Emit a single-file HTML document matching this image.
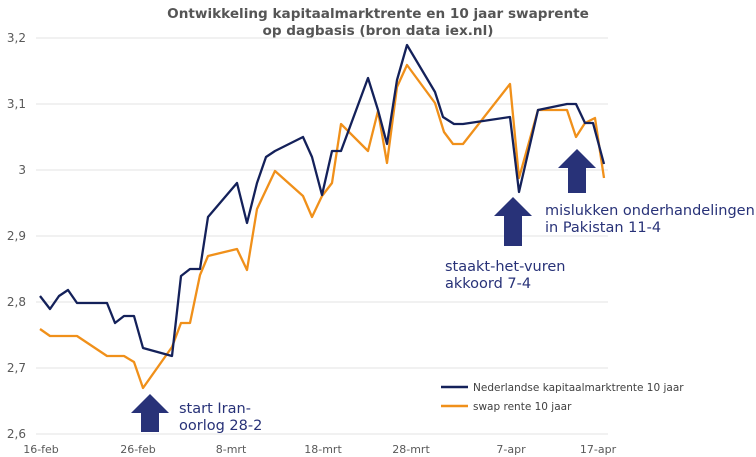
<!DOCTYPE html>
<html><head><meta charset="utf-8"><style>
body{margin:0;background:#fff}
svg{display:block;font-family:"Liberation Sans","DejaVu Sans",sans-serif}
</style></head><body>
<svg width="756" height="457" viewBox="0 0 756 457">
<g font-family="DejaVu Sans,Liberation Sans,sans-serif" font-weight="bold" font-size="13.6" fill="#555555" text-anchor="middle">
<text x="378" y="18">Ontwikkeling kapitaalmarktrente en 10 jaar swaprente</text>
<text x="378" y="35">op dagbasis (bron data iex.nl)</text>
</g>
<g stroke="#e3e3e3" stroke-width="1">
<line x1="36" y1="38" x2="608" y2="38"/><line x1="36" y1="104" x2="608" y2="104"/>
<line x1="36" y1="170" x2="608" y2="170"/><line x1="36" y1="236" x2="608" y2="236"/>
<line x1="36" y1="302" x2="608" y2="302"/><line x1="36" y1="368" x2="608" y2="368"/>
<line x1="36" y1="434" x2="608" y2="434"/>
</g>
<g font-family="DejaVu Sans,Liberation Sans,sans-serif" font-size="12" fill="#595959" text-anchor="end">
<text x="26" y="42">3,2</text><text x="26" y="108">3,1</text><text x="26" y="174">3</text>
<text x="26" y="240">2,9</text><text x="26" y="306">2,8</text><text x="26" y="372">2,7</text><text x="26" y="438">2,6</text>
</g>
<g font-family="DejaVu Sans,Liberation Sans,sans-serif" font-size="11" fill="#595959" text-anchor="middle">
<text x="41" y="453">16-feb</text><text x="138" y="453">26-feb</text><text x="231" y="453">8-mrt</text>
<text x="323" y="453">18-mrt</text><text x="411" y="453">28-mrt</text><text x="511" y="453">7-apr</text><text x="598" y="453">17-apr</text>
</g>
<polyline fill="none" stroke="#f0901a" stroke-width="2.3" stroke-linejoin="round" points="40,329 50,336 77,336 107,356 124,356 134,362 143,388 172,347 181,323 190,323 200,275 208,256 237,249 247,270 257,209 275,171 303,196 312,217 322,196 332,183 341,124 368,151 378,111 387,163 397,87 407,65 435,103 444,132 453,144 463,144 510,84 519,178 538,110 567,110 576,137 585,123 595,118 604,178"/>
<polyline fill="none" stroke="#14215a" stroke-width="2.3" stroke-linejoin="round" points="40,296 50,309 59,296 68,290 77,303 107,303 115,323 124,316 134,316 143,348 172,356 181,276 190,269 200,269 208,217 237,183 247,223 257,183 266,157 275,151 303,137 312,157 322,195 332,151 341,151 368,78 378,110 387,144 397,80 407,45 435,92 443,117 454,124 463,124 510,117 519,192 538,110 567,104 576,104 585,123 593,123 604,164"/>
<g fill="#283278">
<polygon points="150,394 169,413 159,413 159,432 141,432 141,413 131,413"/>
<polygon points="513,197 532,216 522,216 522,246 504,246 504,216 494,216"/>
<polygon points="577,149 596,168 586,168 586,193 568,193 568,168 558,168"/>
</g>
<g font-family="DejaVu Sans,Liberation Sans,sans-serif" font-size="14.5" fill="#283278">
<text x="179" y="413">start Iran-</text><text x="179" y="430">oorlog 28-2</text>
<text x="445" y="271">staakt-het-vuren</text><text x="445" y="288">akkoord 7-4</text>
<text x="545" y="215">mislukken onderhandelingen</text><text x="545" y="232">in Pakistan 11-4</text>
</g>
<line x1="441" y1="387" x2="468" y2="387" stroke="#14215a" stroke-width="2.5"/>
<line x1="441" y1="406" x2="468" y2="406" stroke="#f0901a" stroke-width="2.5"/>
<g font-family="DejaVu Sans,Liberation Sans,sans-serif" font-size="10.5" fill="#404040">
<text x="473" y="391">Nederlandse kapitaalmarktrente 10 jaar</text>
<text x="473" y="410">swap rente 10 jaar</text>
</g>
</svg>
</body></html>
